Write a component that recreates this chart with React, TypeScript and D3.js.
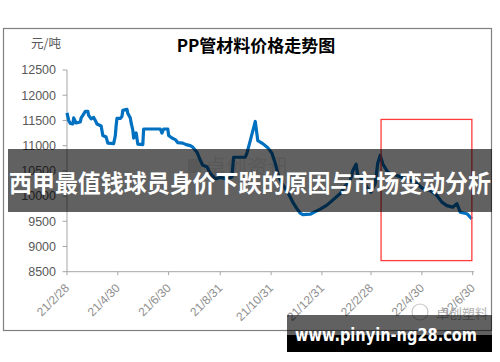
import React from "react";
import * as d3 from "d3";

const dates = [
  "2021-02-28","2021-03-02","2021-03-04","2021-03-07","2021-03-08","2021-03-11","2021-03-16","2021-03-17","2021-03-19","2021-03-22",
  "2021-03-25","2021-03-26","2021-03-29","2021-04-01","2021-04-03","2021-04-05","2021-04-10","2021-04-12","2021-04-16","2021-04-18",
  "2021-04-25","2021-04-27","2021-04-28","2021-04-29","2021-05-03","2021-05-05","2021-05-06","2021-05-11","2021-05-12","2021-05-15",
  "2021-05-16","2021-05-18","2021-05-19","2021-05-22","2021-05-23","2021-05-24","2021-05-30","2021-05-31","2021-06-20","2021-06-22",
  "2021-06-24","2021-06-29","2021-06-30","2021-07-04","2021-07-08","2021-07-11","2021-07-17","2021-07-21","2021-07-26","2021-07-29",
  "2021-08-03","2021-08-07","2021-08-10","2021-08-15","2021-08-19","2021-08-25","2021-08-31","2021-09-08","2021-09-14","2021-09-16",
  "2021-09-30","2021-10-02","2021-10-06","2021-10-12","2021-10-15","2021-10-21","2021-10-27","2021-11-01","2021-11-05","2021-11-08",
  "2021-11-13","2021-11-19","2021-11-23","2021-11-26","2021-12-01","2021-12-05","2021-12-08","2021-12-17","2021-12-23","2021-12-29",
  "2022-01-06","2022-01-13","2022-01-22","2022-01-28","2022-02-03","2022-02-06","2022-02-10","2022-02-12","2022-02-18","2022-02-24",
  "2022-02-28","2022-03-05","2022-03-08","2022-03-11","2022-03-14","2022-03-19","2022-03-23","2022-03-31","2022-04-12","2022-04-24",
  "2022-05-01","2022-05-10","2022-05-18","2022-05-24","2022-05-30","2022-06-06","2022-06-11","2022-06-15","2022-06-23","2022-06-29",
];

const prices = [
  11650,11500,11440,11430,11550,11450,11470,11550,11600,11680,
  11680,11600,11530,11560,11500,11430,11390,11200,11170,11050,
  11040,11200,11400,11540,11540,11580,11700,11720,11640,11550,
  11450,11310,11150,11250,11140,11030,11020,11330,11330,11250,
  11330,11330,11200,11150,11120,11060,11050,11020,11000,10970,
  10870,10710,10610,10580,10450,10340,10370,10340,10380,10770,
  10770,10850,11100,11480,11100,11040,10960,10850,10650,10450,
  10250,10100,9980,9880,9750,9660,9630,9640,9690,9740,
  9820,9920,10050,10200,10300,10500,10630,10420,10320,10150,
  10080,10250,10650,10810,10640,10500,10440,10410,10340,10250,
  10150,10110,10010,9880,9810,9780,9850,9680,9650,9550,
];

const yTicks = [8500, 9000, 9500, 10000, 10500, 11000, 11500, 12000, 12500];
const xTickDates = ["2021-02-28","2021-04-30","2021-06-30","2021-08-31","2021-10-31","2021-12-31","2022-02-28","2022-04-30","2022-06-30"];
const xTickLabels = ["21/2/28","21/4/30","21/6/30","21/8/31","21/10/31","21/12/31","22/2/28","22/4/30","22/6/30"];

const title = "PP管材料价格走势图";
const unitLabel = "元/吨";
const overlayText = "西甲最值钱球员身价下跌的原因与市场变动分析";
const bannerText = "www.pinyin-ng28.com";
const watermarkMid = "卓创资讯";
const watermarkCorner = "卓创塑料";

const highlightStart = "2022-03-12";
const highlightEnd = "2022-06-29";
const highlightTop = 11520;
const highlightBottom = 8720;

export default function App() {
  const parse = d3.timeParse("%Y-%m-%d");
  const x = d3
    .scaleTime()
    .domain([parse("2021-02-28") as Date, parse("2022-06-30") as Date])
    .range([67, 472.7]);
  const y = d3.scaleLinear().domain([8500, 12500]).range([271.7, 70]);

  const data = dates.map((d, i) => ({ date: parse(d) as Date, value: prices[i] }));
  const line = d3
    .line<{ date: Date; value: number }>()
    .x((d) => x(d.date))
    .y((d) => y(d.value));

  const axisColor = "#A6A6A6";
  const labelColor = "#595959";
  const hx0 = x(parse(highlightStart) as Date);
  const hx1 = x(parse(highlightEnd) as Date);
  const hy0 = y(highlightTop);
  const hy1 = y(highlightBottom);

  return (
    <svg
      width={500}
      height={362}
      style={{ position: "absolute", left: 0, top: 0, display: "block", background: "#fff" }}
    >
      <rect x={0} y={0} width={500} height={362} fill="#fff" />
      <rect x={3.5} y={28.5} width={488} height={302} fill="#fff" stroke="#808080" strokeWidth={1.2} />
      <text
        x={256}
        y={52}
        textAnchor="middle"
        fontFamily="'Noto Sans CJK SC', 'Liberation Serif', serif"
        fontWeight="bold"
        fontSize={17}
        fill="#000"
      >
        {title}
      </text>
      <text x={31} y={48} fontFamily="'Noto Sans CJK SC', sans-serif" fontSize={12.5} fill={labelColor}>
        {unitLabel}
      </text>

      <g opacity={0.35}>
        <rect x={188} y={159} width={13} height={14} rx={2} fill="#bdbdbd" />
        <text x={205} y={174} fontFamily="'Noto Sans CJK SC', sans-serif" fontSize={21} fill="#c4c4c4">
          {watermarkMid}
        </text>
      </g>

      <line x1={67} x2={67} y1={y(12500)} y2={y(8500)} stroke={axisColor} strokeWidth={1} />
      {yTicks.map((t) => (
        <g key={t}>
          <line x1={62.5} x2={67} y1={y(t)} y2={y(t)} stroke={axisColor} strokeWidth={1} />
          <text
            x={56}
            y={y(t)}
            dy="0.35em"
            textAnchor="end"
            fontFamily="'Liberation Sans', Arial, sans-serif"
            fontSize={12.5}
            fill={labelColor}
          >
            {t}
          </text>
        </g>
      ))}

      <line x1={67} x2={474} y1={y(8500)} y2={y(8500)} stroke={axisColor} strokeWidth={1} />
      {xTickDates.map((d, i) => {
        const tx = x(parse(d) as Date);
        return (
          <g key={d}>
            <line x1={tx} x2={tx} y1={y(8500)} y2={y(8500) + 3.5} stroke={axisColor} strokeWidth={1} />
            <text
              transform={`translate(${tx + 3},${y(8500) + 17}) rotate(-45)`}
              textAnchor="end"
              fontFamily="'Liberation Sans', Arial, sans-serif"
              fontSize={12}
              fill="#8f8f8f"
            >
              {xTickLabels[i]}
            </text>
          </g>
        );
      })}

      <path d={line(data) || ""} fill="none" stroke="#0070C0" strokeWidth={3.2} strokeLinejoin="round" />

      <rect
        x={hx0}
        y={hy0}
        width={hx1 - hx0}
        height={hy1 - hy0}
        fill="none"
        stroke="#FF3B3B"
        strokeWidth={1.3}
      />

      <g opacity={0.8}>
        <circle cx={420} cy={312} r={8} fill="none" stroke="#bbb" strokeWidth={1.2} />
        <text x={436} y={318} fontFamily="'Noto Sans CJK SC', sans-serif" fontSize={13} fill="#9a9a9a">
          {watermarkCorner}
        </text>
      </g>

      <rect x={8} y={149} width={484} height={63} fill="rgba(0,0,0,0.62)" />
      <text
        x={250}
        y={192}
        textAnchor="middle"
        fontFamily="'Noto Sans CJK SC', sans-serif"
        fontWeight="bold"
        fontSize={24}
        fill="#fff"
        textLength={482}
        lengthAdjust="spacingAndGlyphs"
      >
        {overlayText}
      </text>

      <rect x={287} y={315} width={205} height={20} fill="rgba(0,0,0,0.62)" />
      <rect x={287} y={335} width={205} height={17} fill="#000" />
      <text
        x={295}
        y={341}
        fontFamily="'DejaVu Sans', Verdana, sans-serif"
        fontWeight="bold"
        fontSize={18}
        fill="#fff"
        textLength={182}
        lengthAdjust="spacingAndGlyphs"
      >
        {bannerText}
      </text>
    </svg>
  );
}
